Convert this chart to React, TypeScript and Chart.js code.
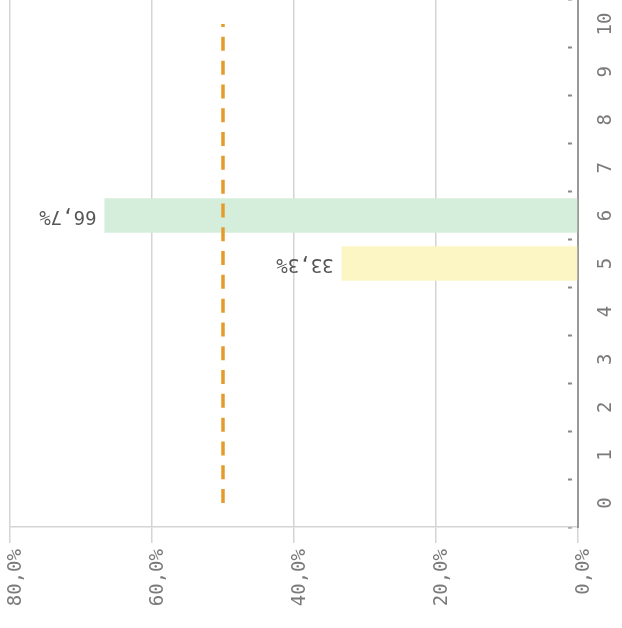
import React, { useEffect, useRef } from "react";
import { Chart, registerables } from "chart.js";

Chart.register(...registerables);

const categories = ["0", "1", "2", "3", "4", "5", "6", "7", "8", "9", "10"];
const barValues: (number | null)[] = [null, null, null, null, null, 33.3, 66.7, null, null, null, null];
const barColors = ["#fbf6c4", "#fbf6c4", "#fbf6c4", "#fbf6c4", "#fbf6c4", "#fbf6c4", "#d5eedb", "#fbf6c4", "#fbf6c4", "#fbf6c4", "#fbf6c4"];
const refLine = [50, 50, 50, 50, 50, 50, 50, 50, 50, 50, 50];
const xMin = 0;
const xMax = 80;
const xStep = 20;

const FONT = "'DejaVu Sans Mono', 'Liberation Mono', monospace";

const fmt = (v: number) => v.toFixed(1).replace(".", ",") + "%";

const labelPlugin = {
  id: "flippedLabels",
  afterDatasetsDraw(chart: any) {
    const meta = chart.getDatasetMeta(0);
    const ctx = chart.ctx;
    ctx.save();
    ctx.font = `19px ${FONT}`;
    ctx.fillStyle = "#555555";
    ctx.textAlign = "left";
    ctx.textBaseline = "middle";
    meta.data.forEach((el: any, i: number) => {
      const v = barValues[i];
      if (v == null) return;
      ctx.save();
      ctx.translate(el.x - 8, el.y);
      ctx.rotate(Math.PI);
      ctx.fillText(fmt(v), 0, 0);
      ctx.restore();
    });
    ctx.restore();
  },
};

export default function App() {
  const ref = useRef<HTMLCanvasElement>(null);
  useEffect(() => {
    if (!ref.current) return;
    const chart = new Chart(ref.current, {
      type: "bar",
      data: {
        labels: categories,
        datasets: [
          {
            type: "bar",
            data: barValues,
            backgroundColor: barColors,
            borderWidth: 0,
            order: 2,
          } as any,
          {
            type: "line",
            data: refLine,
            indexAxis: "y",
            borderColor: "#e49b2c",
            borderWidth: 3.5,
            borderDash: [14, 9.8],
            pointRadius: 0,
            fill: false,
            order: 1,
          } as any,
        ],
      },
      options: {
        indexAxis: "y",
        animation: false,
        responsive: true,
        maintainAspectRatio: false,
        layout: { padding: { top: -2, left: 10, right: 0, bottom: 0 } },
        plugins: { legend: { display: false }, tooltip: { enabled: false } },
        scales: {
          x: {
            type: "linear",
            position: "bottom",
            reverse: true,
            min: xMin,
            max: xMax,
            ticks: {
              stepSize: xStep,
              minRotation: 90,
              maxRotation: 90,
              padding: 6,
              labelOffset: 6,
              color: "#7a7a7a",
              font: { family: FONT, size: 19 },
              callback: (v: any) => fmt(Number(v)),
            },
            grid: { color: "#d4d4d4", lineWidth: 1.5, tickLength: 16 },
            border: { color: "#d4d4d4", width: 1.5 },
            afterFit: (s: any) => {
              s.height = 101;
              s.paddingLeft = 0;
              s.paddingRight = 0;
            },
          },
          y: {
            type: "category",
            position: "right",
            reverse: true,
            ticks: {
              autoSkip: false,
              minRotation: 90,
              maxRotation: 90,
              crossAlign: "center",
              padding: 29,
              color: "#7a7a7a",
              font: { family: FONT, size: 19 },
            },
            grid: {
              drawOnChartArea: false,
              drawTicks: true,
              tickLength: -12,
              tickBorderDash: [0, 7, 4, 100],
              tickColor: "#888888",
              tickWidth: 2,
            },
            border: { color: "#999999", width: 2 },
            afterFit: (s: any) => {
              s.width = 44;
              s.paddingTop = 0;
              s.paddingBottom = 0;
            },
          },
        },
      } as any,
      plugins: [labelPlugin],
    });
    return () => chart.destroy();
  }, []);
  return (
    <div style={{ position: "fixed", left: 0, top: 0, width: 622, height: 628 }}>
      <canvas ref={ref} />
    </div>
  );
}
